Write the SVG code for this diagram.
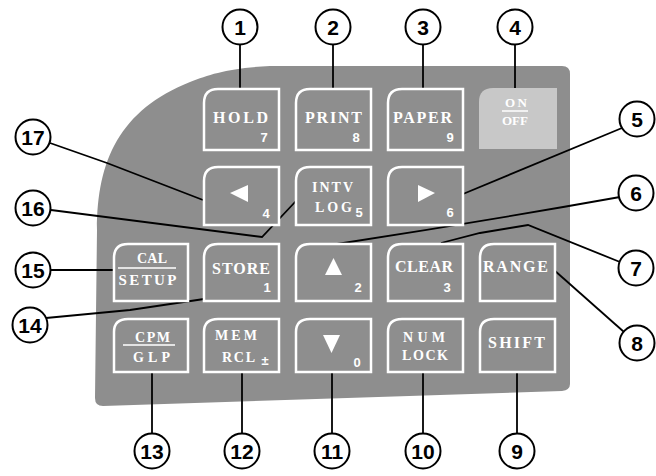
<svg xmlns="http://www.w3.org/2000/svg" width="656" height="476" viewBox="0 0 656 476">
<style>
.key{fill:#8e8e8e;stroke:#fff;stroke-width:2.5}
.kt{font-family:"Liberation Serif",serif;font-weight:bold;fill:#fff;font-size:16px;text-anchor:middle}
.sm{font-size:14px}
.xs{font-size:13px}
.dg{font-family:"Liberation Sans",Arial,sans-serif;font-weight:bold;fill:#fff;font-size:13px;text-anchor:middle}
.tri{fill:#fff}
.ln{stroke:#000;stroke-width:1.8;fill:none}
.cc{fill:#fff;stroke:#000;stroke-width:2}
.cn{font-family:"Liberation Sans",Arial,sans-serif;font-weight:bold;font-size:21px;text-anchor:middle;fill:#000}
.ul{stroke:#fff;stroke-width:1.5}
</style>
<rect width="656" height="476" fill="#fff"/>
<path id="body" d="M97 230 C97 160 120 110 190 82 C210 74 230 68 270 66 L562 66 Q570 66 570 74 L570 384 Q570 390 562 391 L103 406 Q95 406 95 398 Z" fill="#8e8e8e"/>
<g id="connectors">
<path class="ln" d="M240 45 V88"/>
<path class="ln" d="M333 45 V88"/>
<path class="ln" d="M423 45 V88"/>
<path class="ln" d="M515 45 V90"/>
<path class="ln" d="M622 128 L463 194"/>
<path class="ln" d="M620 197 Q480 222 337 244"/>
<path class="ln" d="M620 262 L528 225 L510 228 L480 233 L441 243"/>
<path class="ln" d="M624 332 L554 270"/>
<path class="ln" d="M517 373 V434"/>
<path class="ln" d="M423 373 V434"/>
<path class="ln" d="M332 373 V434"/>
<path class="ln" d="M242 373 V434"/>
<path class="ln" d="M152 373 V434"/>
<path class="ln" d="M46 318 L130 310 L204 299"/>
<path class="ln" d="M51 270 H113"/>
<path class="ln" d="M51 210 L262 237 L296 201"/>
<path class="ln" d="M50 143 L107 163 L203 200"/>
</g>
<g id="k-hold"><path class="key" d="M204 103 Q204 89 218 89 H279 V150 H204 Z"/><text class="kt" x="240.5" y="123" textLength="55">HOLD</text><text class="dg" x="264" y="142">7</text></g>
<g id="k-print"><path class="key" d="M296 103 Q296 89 310 89 H371 V150 H296 Z"/><text class="kt" x="333.5" y="123" textLength="57">PRINT</text><text class="dg" x="356" y="142">8</text></g>
<g id="k-paper"><path class="key" d="M388 103 Q388 89 402 89 H463 V150 H388 Z"/><text class="kt" x="422.5" y="123" textLength="59">PAPER</text><text class="dg" x="450" y="142">9</text></g>
<g id="k-onoff"><path d="M479 102 Q479 88 493 88 H557 V149 H479 Z" fill="#c8c8c8"/><text class="kt xs" x="516" y="107" textLength="22">ON</text><line class="ul" x1="502" y1="111" x2="528" y2="111"/><text class="kt xs" x="515" y="125" textLength="26">OFF</text></g>
<g id="k-left"><path class="key" d="M204 181 Q204 167 218 167 H279 V225 H204 Z"/><polygon class="tri" points="230,193 248,185 248,202"/><text class="dg" x="266" y="218">4</text></g>
<g id="k-intv"><path class="key" d="M296 181 Q296 167 310 167 H371 V225 H296 Z"/><text class="kt sm" x="332.5" y="192" textLength="41">INTV</text><text class="kt sm" x="333.5" y="212" textLength="37">LOG</text><text class="dg" x="359" y="217">5</text></g>
<g id="k-right"><path class="key" d="M388 181 Q388 167 402 167 H463 V225 H388 Z"/><polygon class="tri" points="418,185 418,202 435,193"/><text class="dg" x="450" y="217">6</text></g>
<g id="k-cal"><path class="key" d="M114 258 Q114 244 128 244 H188 V301 H114 Z"/><text class="kt sm" x="152" y="263" textLength="30">CAL</text><line class="ul" x1="118" y1="268" x2="176" y2="268"/><text class="kt" x="147.5" y="285" textLength="58" style="font-size:15px">SETUP</text></g>
<g id="k-store"><path class="key" d="M204 258 Q204 244 218 244 H279 V301 H204 Z"/><text class="kt" x="241" y="274" textLength="58">STORE</text><text class="dg" x="267" y="292">1</text></g>
<g id="k-up"><path class="key" d="M296 258 Q296 244 310 244 H371 V301 H296 Z"/><polygon class="tri" points="333.5,258 325,275 342,275"/><text class="dg" x="358" y="292">2</text></g>
<g id="k-clear"><path class="key" d="M388 258 Q388 244 402 244 H463 V301 H388 Z"/><text class="kt" x="424" y="272" textLength="58">CLEAR</text><text class="dg" x="447" y="292">3</text></g>
<g id="k-range"><path class="key" d="M480 258 Q480 244 494 244 H555 V301 H480 Z"/><text class="kt" x="515.5" y="272" textLength="65">RANGE</text></g>
<g id="k-cpm"><path class="key" d="M114 332 Q114 319 128 319 H188 V372 H114 Z"/><text class="kt sm" x="152.5" y="342" textLength="35">CPM</text><line class="ul" x1="123" y1="345" x2="175" y2="345"/><text class="kt sm" x="151.5" y="362" textLength="37">GLP</text></g>
<g id="k-mem"><path class="key" d="M204 332 Q204 319 218 319 H279 V372 H204 Z"/><text class="kt sm" x="236" y="340" textLength="42">MEM</text><text class="kt sm" x="238.5" y="362" textLength="33">RCL</text><text class="dg" x="265" y="365">±</text></g>
<g id="k-down"><path class="key" d="M296 332 Q296 319 310 319 H371 V372 H296 Z"/><polygon class="tri" points="323,335 340,335 331.5,353"/><text class="dg" x="357" y="367">0</text></g>
<g id="k-num"><path class="key" d="M388 332 Q388 319 402 319 H463 V372 H388 Z"/><text class="kt sm" x="424" y="342" textLength="42">NUM</text><text class="kt sm" x="425" y="360" textLength="46">LOCK</text></g>
<g id="k-shift"><path class="key" d="M480 332 Q480 319 494 319 H555 V372 H480 Z"/><text class="kt" x="516.5" y="348" textLength="57">SHIFT</text></g>
<g id="c1"><circle class="cc" cx="240" cy="27" r="17.5"/><text class="cn" x="240" y="35">1</text></g>
<g id="c2"><circle class="cc" cx="333" cy="27" r="17.5"/><text class="cn" x="333" y="35">2</text></g>
<g id="c3"><circle class="cc" cx="423" cy="27" r="17.5"/><text class="cn" x="423" y="35">3</text></g>
<g id="c4"><circle class="cc" cx="515" cy="27" r="17.5"/><text class="cn" x="515" y="35">4</text></g>
<g id="c5"><circle class="cc" cx="637" cy="119" r="17.5"/><text class="cn" x="637" y="127">5</text></g>
<g id="c6"><circle class="cc" cx="636" cy="193" r="17.5"/><text class="cn" x="636" y="201">6</text></g>
<g id="c7"><circle class="cc" cx="636" cy="268" r="17.5"/><text class="cn" x="636" y="276">7</text></g>
<g id="c8"><circle class="cc" cx="637" cy="343" r="17.5"/><text class="cn" x="637" y="351">8</text></g>
<g id="c9"><circle class="cc" cx="517" cy="451" r="17.5"/><text class="cn" x="517" y="459">9</text></g>
<g id="c10"><circle class="cc" cx="423" cy="451" r="17.5"/><text class="cn" x="423" y="459">10</text></g>
<g id="c11"><circle class="cc" cx="332" cy="451" r="17.5"/><text class="cn" x="332" y="459">11</text></g>
<g id="c12"><circle class="cc" cx="242" cy="451" r="17.5"/><text class="cn" x="242" y="459">12</text></g>
<g id="c13"><circle class="cc" cx="152" cy="451" r="17.5"/><text class="cn" x="152" y="459">13</text></g>
<g id="c14"><circle class="cc" cx="30" cy="325" r="17.5"/><text class="cn" x="30" y="333">14</text></g>
<g id="c15"><circle class="cc" cx="33" cy="270" r="17.5"/><text class="cn" x="33" y="278">15</text></g>
<g id="c16"><circle class="cc" cx="33" cy="208" r="17.5"/><text class="cn" x="33" y="216">16</text></g>
<g id="c17"><circle class="cc" cx="33" cy="137" r="17.5"/><text class="cn" x="33" y="145">17</text></g>
</svg>
